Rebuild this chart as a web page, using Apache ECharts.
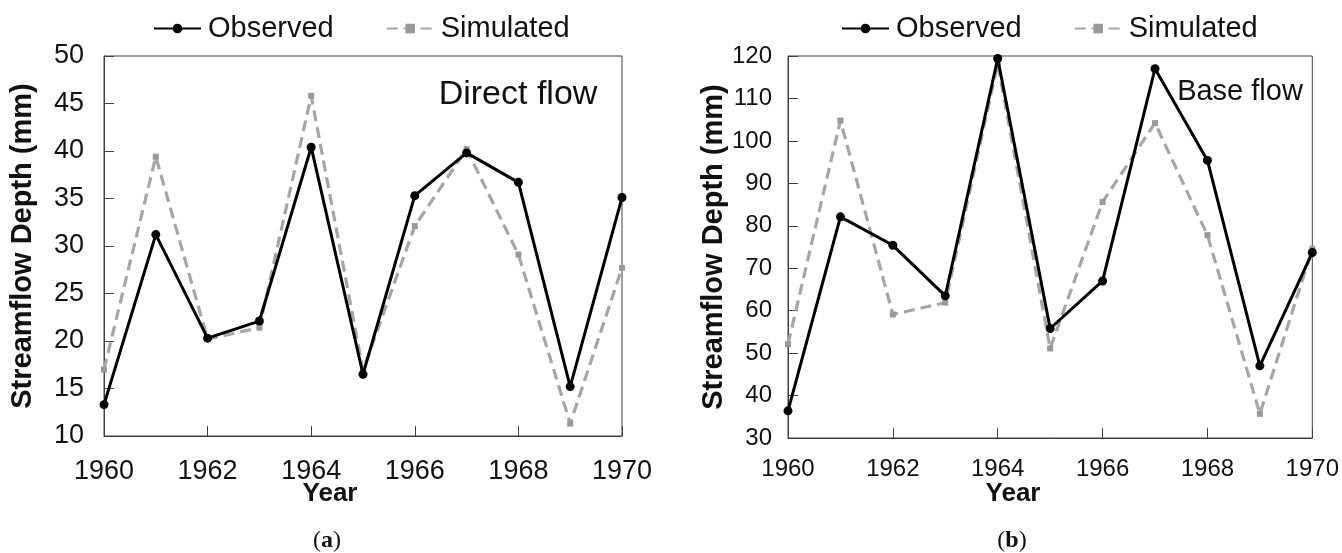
<!DOCTYPE html>
<html>
<head>
<meta charset="utf-8">
<script src="https://cdn.jsdelivr.net/npm/echarts@6/dist/echarts.min.js"></script>
<style>
  html, body { margin: 0; padding: 0; background: #fff; }
  #chart { width: 1342px; height: 553px; }
</style>
</head>
<body>
<div id="chart"></div>
<script>
// 年份
const years = [1960, 1961, 1962, 1963, 1964, 1965, 1966, 1967, 1968, 1969, 1970]
// (a) Direct flow
const directObserved = [13.3, 31.2, 20.3, 22.1, 40.4, 16.5, 35.3, 39.8, 36.7, 15.2, 35.1]
const directSimulated = [17.0, 39.4, 20.2, 21.4, 45.8, 16.9, 32.1, 40.2, 29.1, 11.3, 27.7]
// (b) Base flow
const baseObserved = [36.4, 82.1, 75.4, 63.5, 119.4, 55.8, 67.0, 117.0, 95.4, 47.0, 73.7]
const baseSimulated = [52.1, 104.8, 59.1, 61.9, 118.2, 51.1, 85.6, 104.2, 77.8, 35.7, 74.6]

const font = "'Liberation Sans', Arial, sans-serif"
const serif = "'Liberation Serif', 'DejaVu Serif', serif"

function pairs(vals) {
  return years.map((y, i) => [y, vals[i]])
}

function xAxisOf(idx, size, margin) {
  return {
    type: 'value',
    gridIndex: idx,
    min: 1960,
    max: 1970,
    interval: 2,
    splitLine: { show: false },
    axisLine: { show: true, lineStyle: { color: '#404040', width: 1 } },
    axisTick: { inside: true, length: 10, lineStyle: { color: '#404040' } },
    axisLabel: {
      margin: margin,
      color: '#111',
      fontFamily: font,
      fontSize: size,
      formatter: v => String(v)
    }
  }
}

function yAxisOf(idx, min, max, interval, size, margin, gap) {
  return {
    type: 'value',
    gridIndex: idx,
    min: min,
    max: max,
    interval: interval,
    name: 'Streamflow Depth (mm)',
    nameLocation: 'middle',
    nameGap: gap,
    nameTextStyle: { fontFamily: font, fontSize: 29, fontWeight: 'bold', color: '#111' },
    splitLine: { show: false },
    axisLine: { show: true, lineStyle: { color: '#404040', width: 1 } },
    axisTick: { inside: true, length: 10, lineStyle: { color: '#404040' } },
    axisLabel: { margin: margin, color: '#111', fontFamily: font, fontSize: size }
  }
}

function obsSeries(idx, vals) {
  return {
    name: 'Observed',
    type: 'line',
    xAxisIndex: idx,
    yAxisIndex: idx,
    data: pairs(vals),
    symbol: 'circle',
    symbolSize: 9,
    z: 3,
    lineStyle: { color: '#000', width: 3 },
    itemStyle: { color: '#000' }
  }
}

function simSeries(idx, vals) {
  return {
    name: 'Simulated',
    type: 'line',
    xAxisIndex: idx,
    yAxisIndex: idx,
    data: pairs(vals),
    symbol: 'rect',
    symbolSize: 6,
    z: 2,
    lineStyle: { color: '#a6a6a6', width: 3.2, type: [11, 6] },
    itemStyle: { color: '#999' }
  }
}

function legendOf(left) {
  return {
    left: left,
    top: 14,
    padding: 0,
    itemWidth: 47,
    itemHeight: 12,
    itemGap: 52,
    data: ['Observed', 'Simulated'],
    textStyle: { fontFamily: font, fontSize: 29, color: '#111', padding: [0, 0, 0, 2] }
  }
}

function label(text, x, y, size, weight) {
  return {
    type: 'text',
    x: x,
    y: y,
    style: {
      text: text,
      fill: '#111',
      font: weight + ' ' + size + 'px ' + font,
      textAlign: 'center',
      textVerticalAlign: 'middle'
    }
  }
}

function panelTag(letter, x, y) {
  return {
    type: 'text',
    x: x,
    y: y,
    style: {
      text: '(' + '{b|' + letter + '})',
      fill: '#111',
      font: 'normal 24px ' + serif,
      textAlign: 'center',
      textVerticalAlign: 'middle',
      rich: { b: { fontFamily: serif, fontSize: 24, fontWeight: 'bold', fill: '#111' } }
    }
  }
}

const chart = echarts.init(document.getElementById('chart'))
chart.setOption({
  animation: false,
  backgroundColor: '#fff',
  legend: [legendOf(153), legendOf(841)],
  grid: [
    { left: 104, top: 56, width: 518, height: 380, show: true, borderColor: '#404040', borderWidth: 1 },
    { left: 788, top: 56, width: 525, height: 382, show: true, borderColor: '#404040', borderWidth: 1 }
  ],
  xAxis: [xAxisOf(0, 27, 22), xAxisOf(1, 24, 19)],
  yAxis: [yAxisOf(0, 10, 50, 5, 27, 20, 67), yAxisOf(1, 30, 120, 10, 24, 16, 59)],
  series: [
    simSeries(0, directSimulated),
    obsSeries(0, directObserved),
    simSeries(1, baseSimulated),
    obsSeries(1, baseObserved)
  ],
  graphic: [
    label('Direct flow', 518, 95, 34, 'normal'),
    label('Base flow', 1240, 92, 29, 'normal'),
    label('Year', 330, 494, 26, 'bold'),
    label('Year', 1013, 494, 26, 'bold'),
    panelTag('a', 327, 541),
    panelTag('b', 1012, 541)
  ]
})
</script>
</body>
</html>
